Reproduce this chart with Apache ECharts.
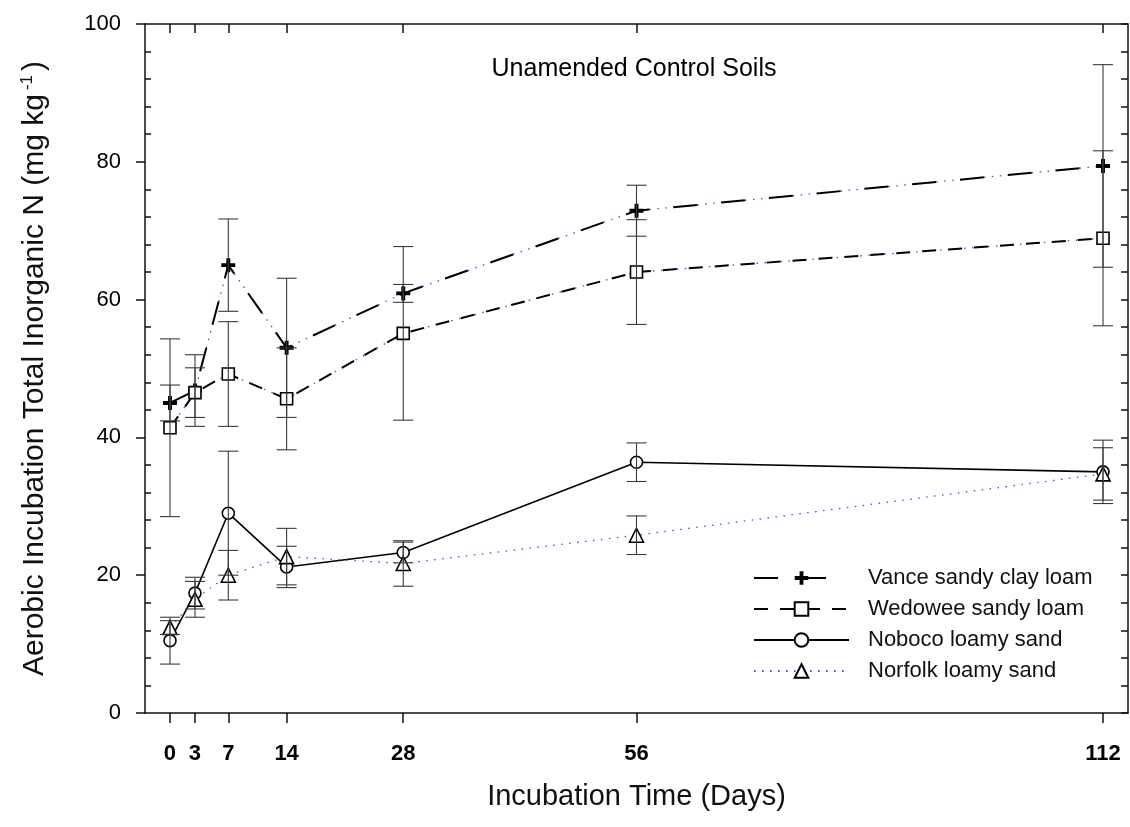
<!DOCTYPE html>
<html><head><meta charset="utf-8">
<script src="https://cdn.jsdelivr.net/npm/echarts@6/dist/echarts.min.js"></script>
<style>html,body{margin:0;padding:0;background:#fff}#c{width:1130px;height:827px}</style>
</head><body><div id="c"></div>
<script>
const days = [0, 3, 7, 14, 28, 56, 112];
const seriesNames = ['Vance sandy clay loam', 'Wedowee sandy loam', 'Noboco loamy sand', 'Norfolk loamy sand'];
const vance = [45.0, 46.8, 65.0, 53.0, 60.9, 72.9, 79.4];
const vanceSd = [2.6, 5.2, 6.7, 10.1, 1.3, 3.7, 14.7];
const wedowee = [41.4, 46.5, 49.2, 45.6, 55.1, 64.0, 68.9];
const wedoweeSd = [12.9, 3.6, 7.6, 7.4, 12.6, 7.6, 12.7];
const noboco = [10.5, 17.4, 29.0, 21.2, 23.3, 36.4, 35.0];
const nobocoSd = [3.4, 2.3, 9.0, 3.0, 1.5, 2.8, 4.6];
const norfolk = [12.4, 16.5, 20.0, 22.7, 21.7, 25.8, 34.7];
const norfolkSd = [1.0, 2.6, 3.6, 4.1, 3.3, 2.8, 3.8];
const yMajorTicks = [0, 20, 40, 60, 80, 100];
const yMinorTicks = [];
for (let v = 4; v < 100; v += 4) if (v % 20 !== 0) yMinorTicks.push(v);

const FONT = 'Liberation Sans, Arial, sans-serif';
const pts = arr => days.map((d, i) => [d, arr[i]]);
const errs = (m, s) => days.map((d, i) => [d, m[i] - s[i], m[i] + s[i]]);
const plusPath = 'path://M3.6,0H6.4V3.6H10V6.4H6.4V10H3.6V6.4H0V3.6H3.6Z';
const blueDots = { color: '#4a4af0', width: 1.3, type: [1.5, 6.5] };

function errRender(params, api) {
  const x = api.value(0), lo = api.value(1), hi = api.value(2);
  const a = api.coord([x, hi]), b = api.coord([x, lo]);
  const w = 10;
  const st = { stroke: '#3a3a3a', lineWidth: 1.1 };
  return { type: 'group', children: [
    { type: 'line', shape: { x1: a[0], y1: a[1], x2: b[0], y2: b[1] }, style: st },
    { type: 'line', shape: { x1: a[0] - w, y1: a[1], x2: a[0] + w, y2: a[1] }, style: st },
    { type: 'line', shape: { x1: b[0] - w, y1: b[1], x2: b[0] + w, y2: b[1] }, style: st }
  ]};
}
const errSeries = (m, s) => ({
  type: 'custom', renderItem: errRender, data: errs(m, s), z: 5,
  encode: { x: 0, y: [1, 2] }, silent: true, clip: false
});

const axisLine = { show: true, onZero: false, lineStyle: { color: '#111', width: 1.5 } };
const chart = echarts.init(document.getElementById('c'), null, { renderer: 'canvas' });
chart.setOption({
  animation: false,
  backgroundColor: '#fff',
  textStyle: { fontFamily: FONT },
  grid: { left: 145, right: 2, top: 24, bottom: 114 },
  title: {
    text: 'Unamended Control Soils', left: 629, top: 52, textAlign: 'center',
    textStyle: { fontFamily: FONT, fontSize: 25, fontWeight: 'normal', color: '#000' }
  },
  legend: {
    data: seriesNames, orient: 'vertical', left: 748, top: 561,
    itemWidth: 95, itemHeight: 17, itemGap: 7,
    textStyle: { fontFamily: FONT, fontSize: 22, color: '#111', lineHeight: 24, padding: [0, 0, 0, 14] }
  },
  xAxis: [
    {
      type: 'value', position: 'bottom', min: -3, max: 115,
      name: 'Incubation Time (Days)', nameLocation: 'middle', nameGap: 69,
      nameTextStyle: { fontFamily: FONT, fontSize: 29, color: '#111' },
      axisLine: axisLine, splitLine: { show: false },
      axisTick: { show: true, inside: false, length: 10, customValues: days, lineStyle: { color: '#111', width: 1.5 } },
      axisLabel: { show: true, customValues: days, margin: 30, fontFamily: FONT, fontSize: 22, fontWeight: 'bold', color: '#000' }
    },
    {
      type: 'value', position: 'top', min: -3, max: 115,
      axisLine: axisLine, splitLine: { show: false },
      axisTick: { show: true, inside: true, length: 9, customValues: days, lineStyle: { color: '#111', width: 1.5 } },
      axisLabel: { show: false }
    }
  ],
  yAxis: [
    {
      type: 'value', position: 'left', min: 0, max: 100, interval: 20,
      name: 'Aerobic Incubation Total Inorganic N (mg kg{sup|-1})', nameLocation: 'middle', nameGap: 95,
      nameTextStyle: { fontFamily: FONT, fontSize: 30, color: '#111',
        rich: { sup: { fontFamily: FONT, fontSize: 17, color: '#111', verticalAlign: 'top', padding: [0, 4, 14, 4] } } },
      axisLine: axisLine, splitLine: { show: false },
      axisTick: { show: true, inside: false, length: 9, lineStyle: { color: '#111', width: 1.5 } },
      axisLabel: { show: true, customValues: yMajorTicks, margin: 24, fontFamily: FONT, fontSize: 22, color: '#000' }
    },
    {
      type: 'value', position: 'right', min: 0, max: 100, interval: 4,
      axisLine: axisLine, splitLine: { show: false },
      axisTick: { show: true, inside: true, length: 7, lineStyle: { color: '#111', width: 1.5 } },
      axisLabel: { show: false }
    },
    {
      type: 'value', position: 'left', offset: 0, min: 0, max: 100, interval: 4,
      axisLine: { show: false, onZero: false }, splitLine: { show: false },
      axisTick: { show: true, inside: true, length: 6, customValues: yMinorTicks, lineStyle: { color: '#111', width: 1.5 } },
      axisLabel: { show: false }
    }
  ],
  series: [
    { name: 'vance-dots', type: 'line', data: pts(vance), symbol: 'none', lineStyle: blueDots, z: 2, silent: true },
    { name: 'wedowee-dots', type: 'line', data: pts(wedowee), symbol: 'none', lineStyle: blueDots, z: 2, silent: true },
    {
      name: seriesNames[0], type: 'line', data: pts(vance), z: 3,
      symbol: plusPath, symbolSize: 14,
      itemStyle: { color: '#000' },
      lineStyle: { color: '#000', width: 2, type: [24, 24] }
    },
    {
      name: seriesNames[1], type: 'line', data: pts(wedowee), z: 3,
      symbol: 'rect', symbolSize: 12,
      itemStyle: { color: '#fff', borderColor: '#000', borderWidth: 1.6 },
      lineStyle: { color: '#000', width: 2, type: [14, 12] }
    },
    {
      name: seriesNames[2], type: 'line', data: pts(noboco), z: 3,
      symbol: 'circle', symbolSize: 12,
      itemStyle: { color: '#fff', borderColor: '#000', borderWidth: 1.6 },
      lineStyle: { color: '#000', width: 1.6, type: 'solid' }
    },
    {
      name: seriesNames[3], type: 'line', data: pts(norfolk), z: 3,
      symbol: 'triangle', symbolSize: 14,
      itemStyle: { color: '#fff', borderColor: '#000', borderWidth: 1.6 },
      lineStyle: blueDots
    },
    errSeries(vance, vanceSd),
    errSeries(wedowee, wedoweeSd),
    errSeries(noboco, nobocoSd),
    errSeries(norfolk, norfolkSd)
  ]
});
</script></body></html>
